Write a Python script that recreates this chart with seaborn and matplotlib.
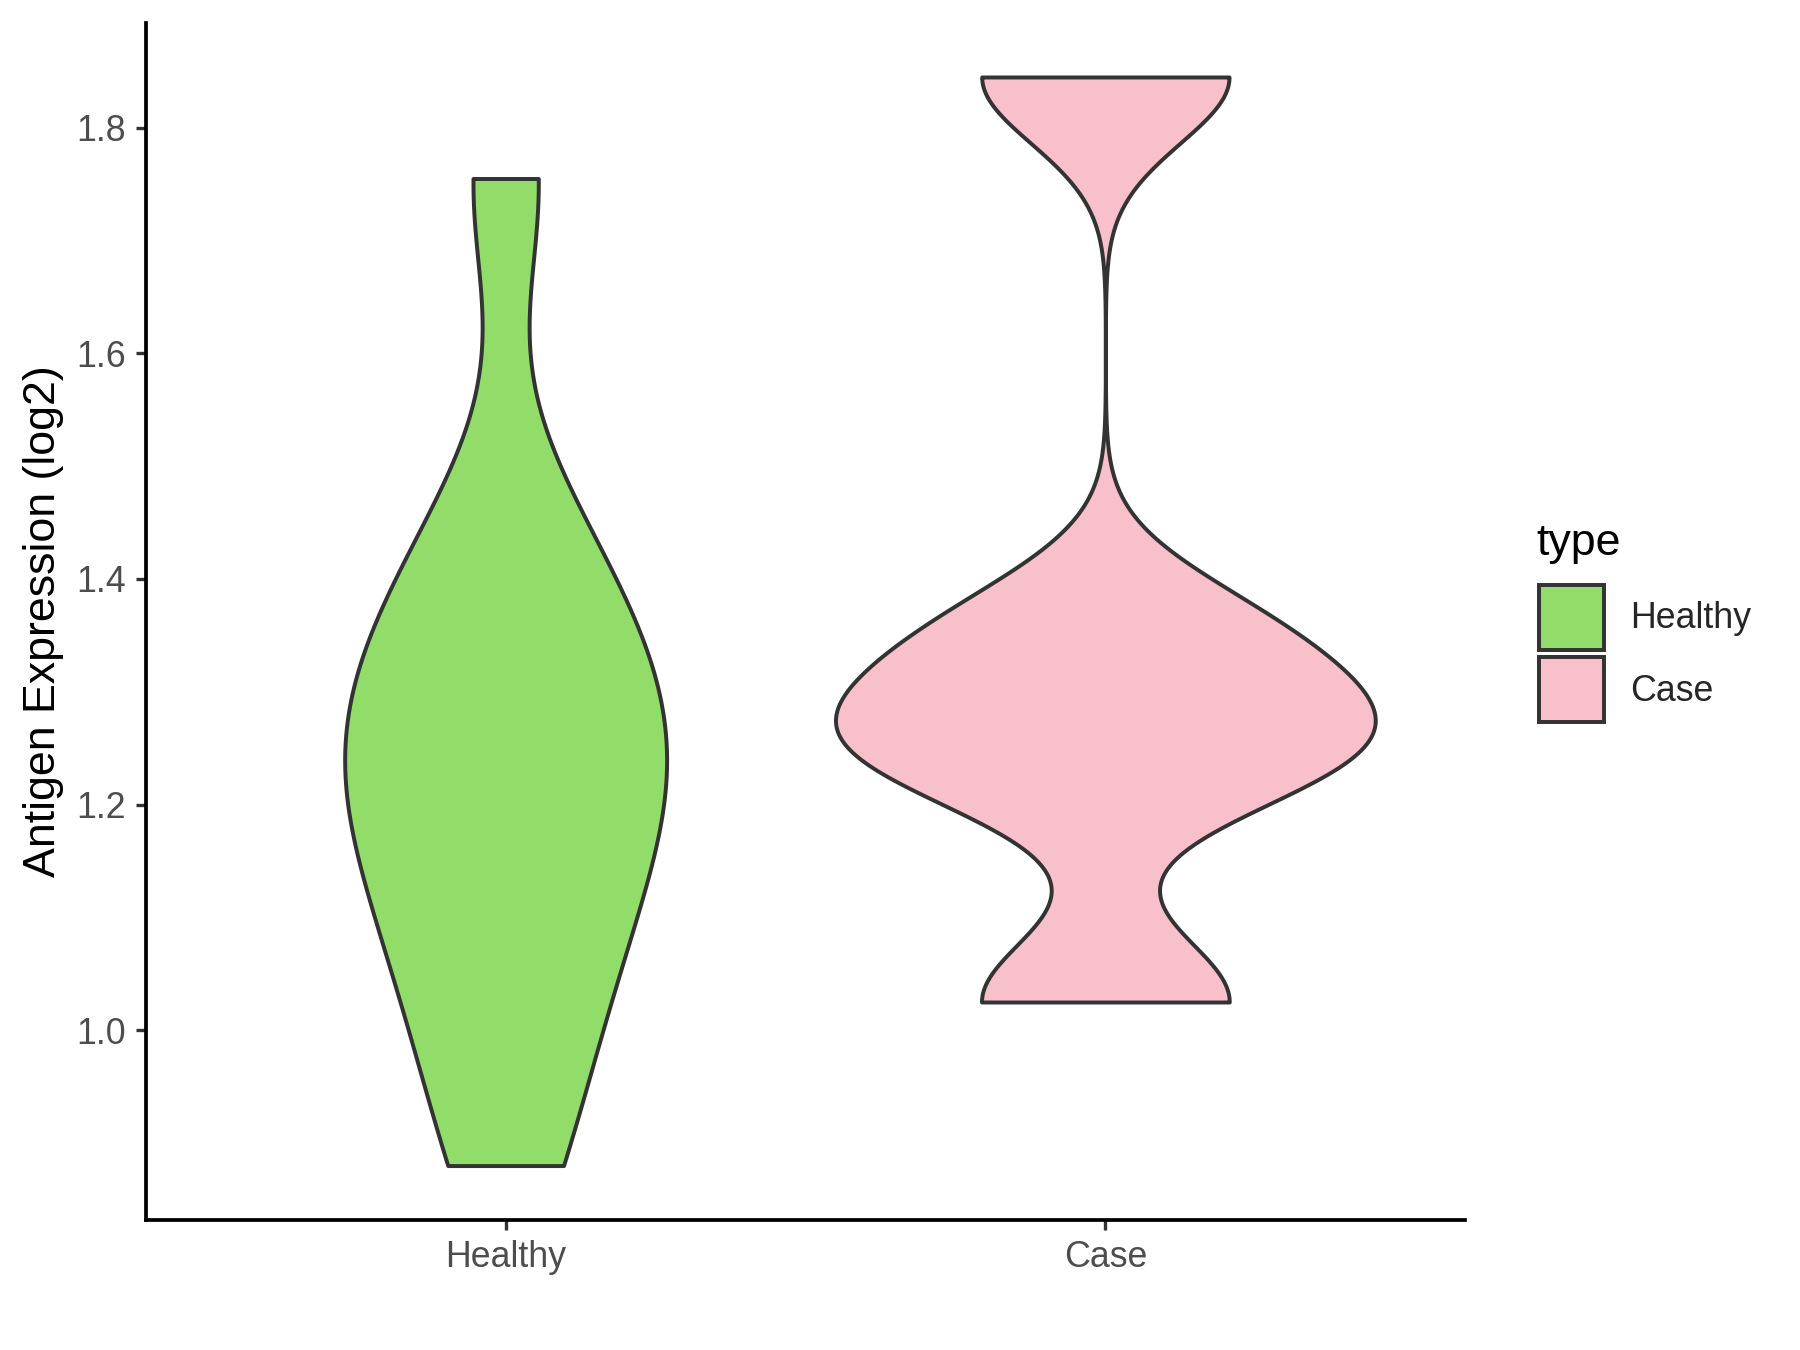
import numpy as np
import pandas as pd
import seaborn as sns
import matplotlib.pyplot as plt
from matplotlib.patches import Patch

# values (log2 antigen expression)
healthy = [0.88, 0.99, 1.07, 1.13, 1.19, 1.23, 1.27, 1.32, 1.37, 1.45, 1.755]
case = [1.025, 1.235, 1.275, 1.355, 1.845]
groups = ["Healthy", "Case"]
colors = ["#92DC6A", "#F7C0CB"]
yticks = [1.0, 1.2, 1.4, 1.6, 1.8]

df = pd.DataFrame({
    "type": ["Healthy"] * len(healthy) + ["Case"] * len(case),
    "value": healthy + case,
})


def nrd0(kde):
    # same bandwidth rule as R's density() default
    x = np.asarray(kde.dataset).ravel()
    sd = np.std(x, ddof=1)
    q75, q25 = np.percentile(x, [75, 25])
    lo = min(sd, (q75 - q25) / 1.34)
    h = 0.9 * lo * len(x) ** -0.2
    return h / sd


sns.set_style("white")
plt.rcParams["font.family"] = ["Liberation Sans", "DejaVu Sans"]

big, small = 21.5, 17.2
line = "#333333"

fig = plt.figure(figsize=(12, 9), dpi=150)
ax = fig.add_axes([0.081, 0.0963, 0.733, 0.887])

sns.violinplot(data=df, x="type", y="value", hue="type", order=groups,
               hue_order=groups, palette=colors, saturation=1, cut=0,
               inner=None, density_norm="area", common_norm=True, width=0.9,
               bw_method=nrd0, gridsize=512, linewidth=1.9,
               linecolor=line, legend=False, ax=ax)

lo, hi = min(healthy + case), max(healthy + case)
pad = (hi - lo) * 0.05
ax.set_ylim(lo - pad, hi + pad)
ax.set_xlim(-0.6, 1.6)
ax.set_yticks(yticks)
ax.set_yticklabels([f"{t:.1f}" for t in yticks])
ax.set_xlabel("")
ax.set_ylabel("Antigen Expression (log2)", fontsize=big, color="black")
ax.yaxis.set_label_coords(-0.062, 0.5)

for s in ["top", "right"]:
    ax.spines[s].set_visible(False)
for s in ["left", "bottom"]:
    ax.spines[s].set_color("black")
    ax.spines[s].set_linewidth(1.8)
ax.tick_params(axis="both", which="major", length=4.8, width=1.6,
               color=line, labelsize=small, labelcolor="#4D4D4D", pad=4.8,
               left=True, bottom=True)

# legend on the right, ggplot style
fig.text(1536 / 1800, 1 - 555 / 1350, "type", fontsize=big, color="black",
         ha="left", va="baseline")
handles = [Patch(facecolor=c, edgecolor=line, linewidth=1.9, label=g)
           for g, c in zip(groups, colors)]
fig.legend(handles=handles, loc="upper left",
           bbox_to_anchor=(1539 / 1800, 1 - 585 / 1350), frameon=False,
           fontsize=small, handlelength=1.81, handleheight=2.41,
           handletextpad=0.72, labelspacing=0.2, borderpad=0,
           borderaxespad=0)

fig.savefig("out.png", dpi=150)
